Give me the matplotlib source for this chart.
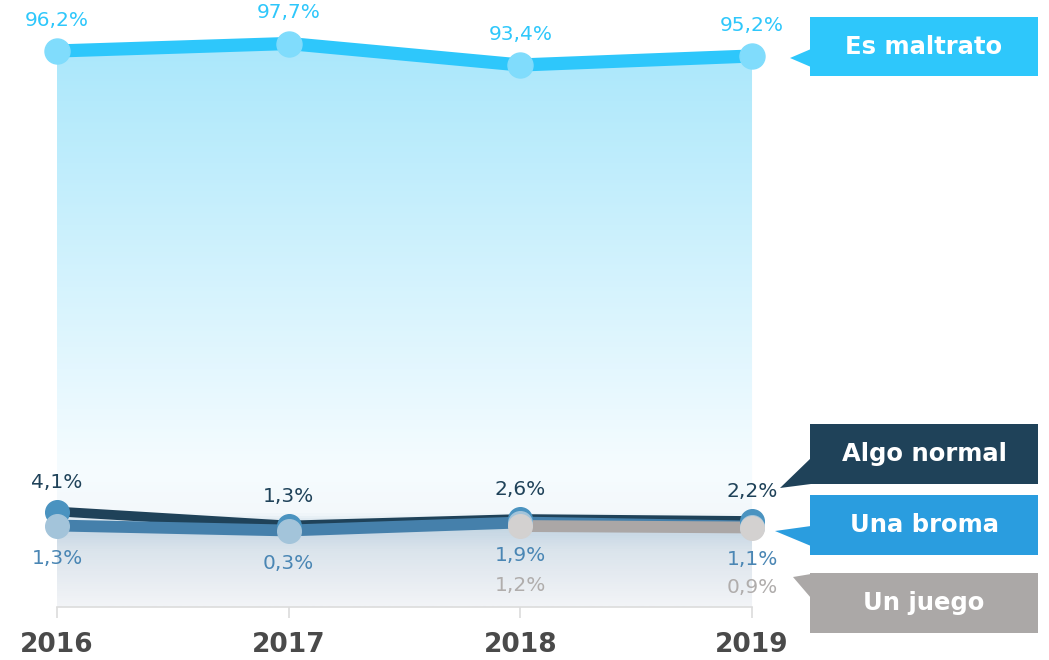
import numpy as np
import matplotlib
matplotlib.use("Agg")
import matplotlib.pyplot as plt
from matplotlib.colors import LinearSegmentedColormap
from matplotlib.patches import Polygon

years = ["2016", "2017", "2018", "2019"]
es_maltrato = [96.2, 97.7, 93.4, 95.2]
algo_normal = [4.1, 1.3, 2.6, 2.2]
una_broma = [1.3, 0.3, 1.9, 1.1]
un_juego_years = ["2018", "2019"]
un_juego = [1.2, 0.9]

series_names = ["Es maltrato", "Algo normal", "Una broma", "Un juego"]

def fmt(v):
    return f"{v:.1f}".replace(".", ",") + "%"

W, H = 1049, 660
fig = plt.figure(figsize=(W / 100, H / 100), dpi=100)
ax = fig.add_axes([0, 0, 1, 1])
plt.rcParams['font.family'] = ['DejaVu Sans']

x = np.arange(len(years))
xj = np.array([years.index(y) for y in un_juego_years])

ppy = 231.67
ax.set_xlim(-57 / ppy, (W - 57) / ppy)
ax.set_ylim(-128 / 5, (H - 128) / 5)

# gradient area
ymin_fill = -15
ytop = max(es_maltrato) + 1
stops = [(-15, "#f2f4f7"), (-4, "#dbe4ec"), (0.5, "#c4d6e3"), (3.5, "#f3f8fb"),
         (12, "#f6fcff"), (ytop, "#a9e7fb")]
lo, hi = stops[0][0], stops[-1][0]
cmap = LinearSegmentedColormap.from_list(
    "g", [((v - lo) / (hi - lo), c) for v, c in stops])
grad = np.linspace(lo, hi, 600).reshape(-1, 1)
im = ax.imshow(grad, extent=[x[0], x[-1], lo, hi], origin="lower",
               aspect="auto", cmap=cmap, vmin=lo, vmax=hi, zorder=1)
poly_pts = list(zip(x, es_maltrato)) + [(x[-1], ymin_fill), (x[0], ymin_fill)]
clip = Polygon(poly_pts, closed=True, transform=ax.transData, fc="none", ec="none")
ax.add_patch(clip)
im.set_clip_path(clip)

# lines
ax.plot(x, es_maltrato, color="#2ec7fb", lw=9.5, zorder=3, solid_capstyle="butt")
ax.plot(x, es_maltrato, "o", ms=18, color="#80dcfc", zorder=4)

ax.plot(x, algo_normal, color="#1f4259", lw=7, zorder=3, solid_capstyle="butt")
ax.plot(x, una_broma, color="#4580ab", lw=8.5, zorder=3.2, solid_capstyle="butt")
ax.plot(xj, un_juego, color="#aba7a6", lw=8.5, zorder=3.4, solid_capstyle="butt")
ax.plot(x, algo_normal, "o", ms=17, color="#4a93c0", zorder=4)
ax.plot(x, una_broma, "o", ms=17, color="#a3c4da", zorder=4.2)
ax.plot(xj, un_juego, "o", ms=17, color="#d3d1d0", zorder=4.4)

# value labels
lab_kw = dict(ha="center", va="center", fontsize=14.5, zorder=6)
for xi, v in zip(x, es_maltrato):
    ax.annotate(fmt(v), (xi, v), xytext=(0, 22), textcoords="offset points",
                color="#2ec7fb", **lab_kw)
for xi, v in zip(x, algo_normal):
    ax.annotate(fmt(v), (xi, v), xytext=(0, 21), textcoords="offset points",
                color="#1f4259", **lab_kw)
for xi, v in zip(x, una_broma):
    ax.annotate(fmt(v), (xi, v), xytext=(0, -24), textcoords="offset points",
                color="#4a86b4", **lab_kw)
for xi, v in zip(xj, un_juego):
    ax.annotate(fmt(v), (xi, v), xytext=(0, -43), textcoords="offset points",
                color="#b0adac", **lab_kw)

# axis
for s in ["left", "right", "top"]:
    ax.spines[s].set_visible(False)
ax.spines["bottom"].set_position(("data", ymin_fill))
ax.spines["bottom"].set_bounds(x[0], x[-1])
ax.spines["bottom"].set_color("#dcdcdc")
ax.spines["bottom"].set_linewidth(1.2)
ax.set_yticks([])
ax.set_xticks(x)
ax.set_xticklabels(years, fontsize=19, fontweight="bold", color="#4a4a4a")
ax.tick_params(axis="x", length=8, width=1.2, color="#dcdcdc", pad=10)
ax.patch.set_alpha(0)

# callouts (figure pixel coordinates, y from top)
def px(pts):
    return [(a / W, 1 - b / H) for a, b in pts]

callouts = [
    ("Es maltrato", "#2ec7fb", (810, 17, 1038, 76), [(811, 49), (790, 58), (811, 67)]),
    ("Algo normal", "#1f4259", (810, 424, 1038, 484), [(811, 458), (780, 488), (811, 484)]),
    ("Una broma", "#2a9ddf", (810, 495, 1038, 555), [(811, 526), (775, 531), (811, 546)]),
    ("Un juego", "#aba8a7", (810, 573, 1038, 633), [(811, 574), (793, 577), (811, 598)]),
]
for name, col, (x0, y0, x1, y1), tri in callouts:
    fig.patches.append(Polygon(px([(x0, y0), (x1, y0), (x1, y1), (x0, y1)]),
                               closed=True, fc=col, ec="none",
                               transform=fig.transFigure, figure=fig))
    fig.patches.append(Polygon(px(tri), closed=True, fc=col, ec="none",
                               transform=fig.transFigure, figure=fig))
    fig.text((x0 + x1) / 2 / W, 1 - (y0 + y1) / 2 / H, name, ha="center",
             va="center", color="white", fontsize=17.5, fontweight="bold")

fig.savefig("out.png", dpi=100)
